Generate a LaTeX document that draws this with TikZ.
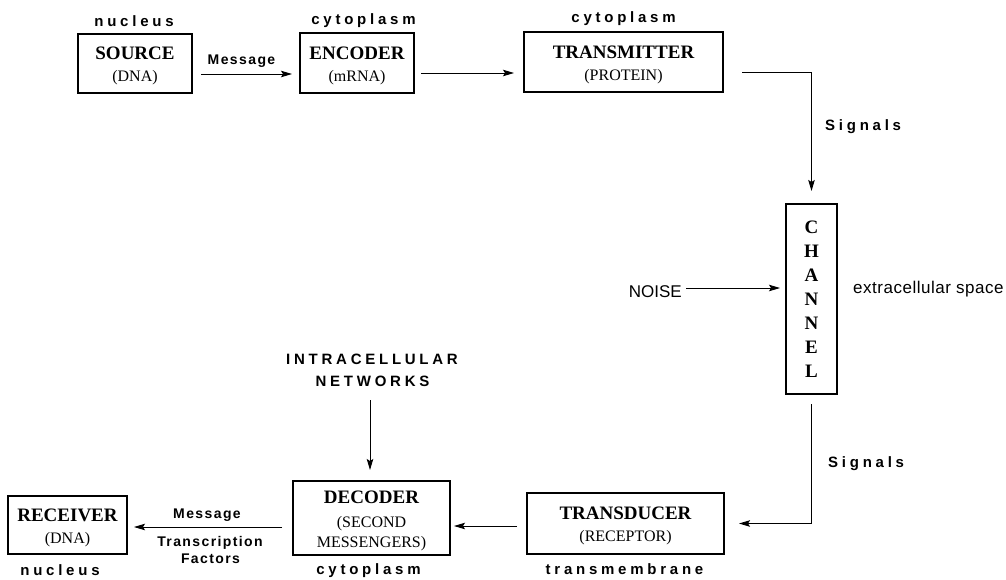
\documentclass[tikz,border=0pt]{standalone}
\usepackage{fontspec}
\setmainfont{Liberation Serif}
\newfontfamily\spsans[LetterSpace=25]{Liberation Sans}
\newfontfamily\msans[LetterSpace=10]{Liberation Sans}
\newfontfamily\psans[LetterSpace=3]{Liberation Sans}
\newfontfamily\nsans{Liberation Sans}
\usetikzlibrary{arrows.meta,calc}
\newcommand\bt[1]{{\fontsize{19}{22}\selectfont\bfseries\rule{0pt}{18pt}#1}}
\newcommand\stt[1]{{\fontsize{16}{22}\selectfont #1}}
\begin{document}
\begin{tikzpicture}[x=1pt,y=-1pt,
  box/.style={draw,line width=2pt,inner sep=0pt,align=center,font=\fontsize{16}{22}\selectfont},
  arr/.style={-{Stealth[length=11pt,width=6.5pt,inset=2pt]},line width=0.9pt},
  lbl/.style={inner sep=0pt,anchor=base,font=\spsans\bfseries\fontsize{15}{18}\selectfont},
  mlbl/.style={inner sep=0pt,anchor=base,font=\msans\bfseries\fontsize{14}{17}\selectfont},
  plbl/.style={inner sep=0pt,anchor=base,font=\psans\fontsize{17}{20}\selectfont}]
\useasboundingbox[fill=white] (0,0) rectangle (1006,579);

% boxes
\node[box,minimum width=114pt,minimum height=59pt] (src) at (135,63.5) {\bt{SOURCE}\\\stt{(DNA)}};
\node[box,minimum width=114pt,minimum height=60pt] (enc) at (357,63) {\bt{ENCODER}\\\stt{(mRNA)}};
\node[box,minimum width=199pt,minimum height=60pt] (trans) at (623.5,62) {\bt{TRANSMITTER}\\\stt{(PROTEIN)}};
\node[box,minimum width=51pt,minimum height=190pt,font=\bfseries\fontsize{19}{24}\selectfont] (chan) at (811.5,299) {C\\H\\A\\N\\N\\E\\L};
\node[box,minimum width=197pt,minimum height=61pt] (transd) at (625.5,523.5) {\bt{TRANSDUCER}\\\stt{(RECEPTOR)}};
\node[box,minimum width=157pt,minimum height=74pt] (dec) at (371.5,518) {\bt{DECODER}\\[2pt]\stt{(SECOND}\\[-2pt]\stt{MESSENGERS)}};
\node[box,minimum width=119pt,minimum height=58pt] (rec) at (67.5,525) {\bt{RECEIVER}\\\stt{(DNA)}};

% labels
\node[lbl] (l1) at (134,26) {nucleus};
\node[lbl] (l2) at (363.5,24) {cytoplasm};
\node[lbl] (l3) at (623.5,22) {cytoplasm};
\node[mlbl] (m1) at (241.5,64) {Message};
\node[lbl,anchor=base west] (sig1) at (825,130) {Signals};
\node[plbl,anchor=base east,font=\nsans\fontsize{17}{20}\selectfont] (noise) at (682,297) {NOISE};
\node[plbl,anchor=base west] (ext) at (853,293) {extracellular space};
\node[lbl,anchor=base west] (sig2) at (828,467) {Signals};
\node[lbl] (l4) at (624.5,574) {transmembrane};
\node[lbl] (net1) at (372,364) {INTRACELLULAR};
\node[lbl] (net2) at (372.5,386) {NETWORKS};
\node[mlbl] (m2) at (207,518) {Message};
\node[mlbl] (tf1) at (210,546) {Transcription};
\node[mlbl] (tf2) at (210.5,563) {Factors};
\node[lbl] (l5) at (368.5,574) {cytoplasm};
\node[lbl] (l6) at (60,575) {nucleus};

% connector end points
\coordinate (a1) at ([xshift=8pt,yshift=-10.5pt]src.east);
\coordinate (b1) at ([xshift=-7pt]enc.west);
\coordinate (a2) at ([xshift=6pt,yshift=-10pt]enc.east);
\coordinate (b2) at ([xshift=-9pt]trans.west);
\coordinate (a5) at ([xshift=4pt,yshift=9pt]noise.base east);
\coordinate (b5) at ([xshift=-5pt]chan.west);
\coordinate (a6) at ([xshift=-9pt,yshift=-2.5pt]transd.west);
\coordinate (b6) at ([xshift=3pt]dec.east);
\coordinate (a7) at ([xshift=-10pt,yshift=-9pt]dec.west);
\coordinate (b7) at ([xshift=6pt]rec.east);
\coordinate (a8) at ([xshift=-2.5pt,yshift=-14pt]net2.base);
\coordinate (b8) at ([yshift=10pt]dec.north);

% connectors
\draw[arr] (a1) -- (a1 -| b1);
\draw[arr] (a2) -- (a2 -| b2);
\draw[arr] ([xshift=18pt,yshift=-10pt]trans.east) -| ([yshift=12pt]chan.north);
\draw[arr] ([yshift=-9pt]chan.south) |- ([xshift=14pt]transd.east);
\draw[arr] (a5) -- (a5 -| b5);
\draw[arr] (a6) -- (a6 -| b6);
\draw[arr] (a7) -- (a7 -| b7);
\draw[arr] (a8) -- (a8 |- b8);
\end{tikzpicture}
\end{document}
